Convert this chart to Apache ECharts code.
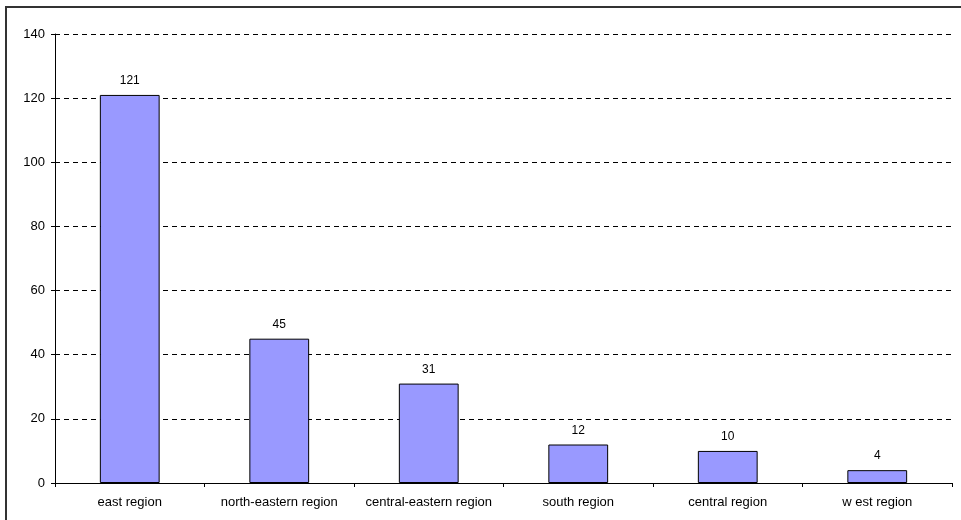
<!DOCTYPE html>
<html>
<head>
<meta charset="utf-8">
<script src="https://cdn.jsdelivr.net/npm/echarts@6/dist/echarts.min.js"></script>
<style>
html,body{margin:0;padding:0;background:#fff;}
#chart{width:961px;height:520px;}
</style>
</head>
<body>
<div id="chart"></div>
<script>
const categories = ["east region", "north-eastern region", "central-eastern region", "south region", "central region", "w est region"];
const values = [121, 45, 31, 12, 10, 4];
const yTicks = { min: 0, max: 140, interval: 20 };

const chart = echarts.init(document.getElementById('chart'), null, { renderer: 'canvas' });
const font = 'Liberation Sans, Arial, sans-serif';
chart.setOption({
  animation: false,
  backgroundColor: '#ffffff',
  graphic: [{
    type: 'rect',
    shape: { x: 6, y: 7, width: 1200, height: 800 },
    style: { fill: 'none', stroke: '#333', lineWidth: 2 },
    silent: true
  }],
  grid: { left: 55, right: 9, top: 34, bottom: 37 },
  xAxis: {
    type: 'category',
    data: categories,
    boundaryGap: true,
    axisLine: { show: true, lineStyle: { color: '#000', width: 1 } },
    axisTick: { show: true, length: 4, inside: false, lineStyle: { color: '#000' } },
    axisLabel: { color: '#000', fontFamily: font, fontSize: 13, margin: 13, interval: 0 },
    splitLine: { show: false }
  },
  yAxis: {
    type: 'value',
    min: yTicks.min,
    max: yTicks.max,
    interval: yTicks.interval,
    axisLine: { show: true, lineStyle: { color: '#000', width: 1 } },
    axisTick: { show: true, length: 4, lineStyle: { color: '#000' } },
    axisLabel: { color: '#000', fontFamily: font, fontSize: 13, margin: 10 },
    splitLine: { show: true, lineStyle: { color: '#000', type: [5, 4], width: 1 } }
  },
  series: [{
    type: 'bar',
    data: values,
    barWidth: '40%',
    itemStyle: { color: '#9999ff', borderColor: '#000', borderWidth: 1 },
    label: { show: true, position: 'top', distance: 8, color: '#000', fontFamily: font, fontSize: 12 }
  }]
});
</script>
</body>
</html>
